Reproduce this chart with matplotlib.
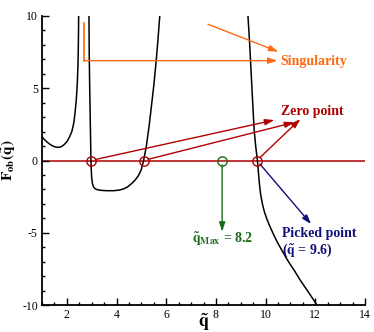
import matplotlib
matplotlib.use("Agg")
import matplotlib.pyplot as plt
from matplotlib.ticker import MultipleLocator

plt.rcParams['font.family'] = ['Liberation Serif', 'DejaVu Serif']
plt.rcParams['mathtext.fontset'] = 'stix'
plt.rcParams['axes.unicode_minus'] = False

# Black curve branches (q, F_ob)
b1_q = [1.0, 1.1, 1.2, 1.32, 1.45, 1.58, 1.66, 1.76, 1.88, 2.0, 2.1, 2.2, 2.28, 2.33, 2.38,
        2.42, 2.445, 2.46, 2.47, 2.475]
b1_v = [1.65, 1.45, 1.28, 1.12, 0.99, 0.92, 0.91, 0.94, 1.08, 1.3, 1.6, 2.0, 2.6, 3.3, 4.2,
        5.3, 6.5, 7.6, 9.0, 10.0]
b2_q = [2.89, 2.90, 2.92, 2.945, 2.97, 2.985, 3.0, 3.03, 3.08, 3.15, 3.25, 3.40, 3.60, 3.88,
        4.10, 4.28, 4.45, 4.62, 4.75, 4.88, 4.99, 5.09, 5.20, 5.32, 5.42, 5.50, 5.58, 5.66, 5.74]
b2_v = [10.0, 7.5, 5.0, 2.5, 0.0, -0.7, -1.2, -1.6, -1.85, -1.97, -2.03, -2.07, -2.09, -2.09,
        -2.05, -1.97, -1.82, -1.58, -1.35, -1.05, -0.66, 0.0, 1.0, 2.5, 4.0, 5.2, 6.6, 8.2, 10.0]
b3_q = [9.29, 9.36, 9.42, 9.48, 9.54, 9.60, 9.67, 9.71, 9.75, 9.80, 9.87, 9.95, 10.05, 10.17,
        10.34, 10.5, 10.7, 10.9, 11.15, 11.4, 11.7, 12.03, 12.05]
b3_v = [10.0, 8.0, 6.0, 4.0, 2.1, 1.0, 0.0, -0.8, -1.6, -2.35, -3.0, -3.55, -4.05, -4.55,
        -5.2, -5.75, -6.35, -6.95, -7.6, -8.3, -9.05, -9.9, -10.0]

zero_q = [2.97, 5.09, 9.65]
qmax = 8.25
x_ticks = [2, 4, 6, 8, 10, 12, 14]
y_ticks = [-10, -5, 0, 5, 10]

ORANGE = '#FF6A13'
RED = '#B00000'
GREEN = '#1B6B1B'
NAVY = '#10107A'

fig = plt.figure(figsize=(3.74, 3.32), dpi=100)
ax = fig.add_axes([42/374, 1-305/332, (365-42)/374, (305-16)/332])

for q, v in [(b1_q, b1_v), (b2_q, b2_v), (b3_q, b3_v)]:
    ax.plot(q, v, color='black', lw=1.1, solid_joinstyle='round', clip_on=True)

ax.axhline(0, color=RED, lw=1.1, zorder=1)
ax.plot(zero_q, [0]*len(zero_q), 'o', mfc='none', mec=RED, ms=6.7, mew=1.0, zorder=5)
ax.plot([qmax], [0], 'o', mfc='none', mec=GREEN, ms=6.7, mew=1.0, zorder=5)

def arrow(x0, y0, x1, y1, color, shrinkA=0):
    ax.annotate('', xy=(x1, y1), xytext=(x0, y0),
                arrowprops=dict(arrowstyle='-|>,head_length=0.55,head_width=0.18',
                                color=color, lw=1.0, shrinkA=shrinkA, shrinkB=0))

# Singularity
ax.plot([2.70, 2.70], [9.54, 6.91], color=ORANGE, lw=1.2)
arrow(2.70, 6.91, 10.48, 6.91, ORANGE)
arrow(7.68, 9.43, 10.51, 7.53, ORANGE)
ax.text(10.58, 6.84, 'Singularity', color=ORANGE, fontsize=10, fontweight='bold',
        ha='left', va='center')

# Zero points
arrow(zero_q[0], 0, 10.35, 2.80, RED, shrinkA=3.3)
arrow(zero_q[1], 0, 11.15, 2.64, RED, shrinkA=3.3)
arrow(zero_q[2], 0, 11.40, 2.87, RED, shrinkA=3.3)
ax.text(10.6, 3.38, 'Zero point', color=RED, fontsize=10, fontweight='bold',
        ha='left', va='center')

# q max
arrow(qmax, -0.3, qmax, -4.93, GREEN)
ax.text(qmax, -5.45, r'$\mathbf{\tilde{q}_{Max}}$ = 8.2', color=GREEN, fontsize=10,
        fontweight='bold', ha='center', va='center')

# Picked point
arrow(zero_q[2], 0, 11.83, -4.4, NAVY, shrinkA=3.3)
ax.text(10.65, -5.04, 'Picked point', color=NAVY, fontsize=10, fontweight='bold',
        ha='left', va='center')
ax.text(10.65, -6.2, r'($\mathbf{\tilde{q}}$ = 9.6)', color=NAVY, fontsize=10,
        fontweight='bold', ha='left', va='center')

ax.set_xlim(1, 14)
ax.set_ylim(-10, 10)
ax.set_xticks(x_ticks)
ax.set_yticks(y_ticks)
ax.xaxis.set_minor_locator(MultipleLocator(0.5))
ax.yaxis.set_minor_locator(MultipleLocator(1))
ax.tick_params(which='both', direction='in', labelsize=8.5, width=1.0, pad=3)
ax.tick_params(which='major', length=5)
ax.tick_params(which='minor', length=2.5)
ax.spines['top'].set_visible(False)
ax.spines['right'].set_visible(False)
for s in ['left', 'bottom']:
    ax.spines[s].set_linewidth(1.3)

ax.set_xlabel(r'$\mathbf{\tilde{q}}$', fontsize=13)
ax.xaxis.set_label_coords(0.5, -0.022)
ax.set_ylabel(r'$\mathbf{F_{ob}(\tilde{q})}$', fontsize=11)
ax.yaxis.set_label_coords(-0.075, 0.5)

fig.savefig('out.png', dpi=100)
